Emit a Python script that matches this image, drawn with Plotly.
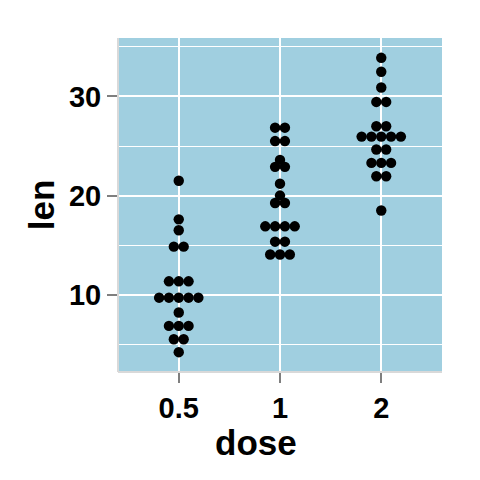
import numpy as np
import plotly.graph_objects as go

# ToothGrowth dot plot, binned values (bin centre, dots in bin)
doses = ["0.5", "1", "2"]
bin_centres = {
    "0.5": [4.2, 5.5, 6.85, 8.2, 9.7, 11.35, 14.85, 16.5, 17.6, 21.5],
    "1": [14.05, 15.35, 16.9, 19.25, 20.0, 21.2, 22.9, 23.6, 25.5, 26.85],
    "2": [18.5, 21.95, 23.3, 24.65, 25.95, 27.0, 29.45, 30.9, 32.5, 33.9],
}
bin_counts = {
    "0.5": [1, 2, 3, 1, 5, 3, 2, 1, 1, 1],
    "1": [3, 2, 4, 2, 1, 1, 2, 1, 2, 2],
    "2": [1, 2, 3, 2, 5, 2, 2, 1, 1, 1],
}
y_ticks = [10, 20, 30]
binwidth = 0.99

# plot geometry (pixels) used to turn dot diameter into x offsets
# (page has an 8px body margin, so left/top margins are 8px smaller)
W, H = 480, 480
m = dict(l=110, r=46, t=30, b=116)
x_range = [0.4, 3.6]
y_range = [2.2, 35.9]
px_per_y = (H - m["t"] - m["b"]) / (y_range[1] - y_range[0])
px_per_x = (W - m["l"] - m["r"]) / (x_range[1] - x_range[0])
dot_px = binwidth * px_per_y
dx = dot_px / px_per_x

xs, ys = [], []
for i, d in enumerate(doses):
    for c, n in zip(bin_centres[d], bin_counts[d]):
        for k in range(n):
            xs.append(i + 1 + (k - (n - 1) / 2) * dx)
            ys.append(c)

fig = go.Figure(go.Scatter(
    x=xs, y=ys, mode="markers",
    marker=dict(size=dot_px + 0.6, color="black", line=dict(width=0)),
    showlegend=False, hoverinfo="skip",
))

font_fam = "Liberation Sans, Arial, sans-serif"
fig.update_layout(
    width=W, height=H, margin=m,
    paper_bgcolor="white", plot_bgcolor="rgb(160,207,224)",
    font=dict(family=font_fam, color="black"),
    xaxis=dict(
        range=x_range, tickvals=[1, 2, 3], ticktext=doses,
        showgrid=True, gridcolor="white", gridwidth=2.2, zeroline=False,
        ticks="outside", ticklen=10, tickwidth=2, tickcolor="#7F7F7F",
        tickfont=dict(size=29, weight="bold", color="black"),
    ),
    yaxis=dict(
        range=y_range, tickvals=y_ticks,
        showgrid=True, gridcolor="white", gridwidth=2.2, zeroline=False,
        ticks="outside", ticklen=10, tickwidth=2, tickcolor="#7F7F7F",
        tickfont=dict(size=29, weight="bold", color="black"),
        minor=dict(tickvals=[5, 15, 25, 35], showgrid=True, gridcolor="white", gridwidth=1.1, ticks=""),
        title=dict(text="len", font=dict(size=35, weight="bold"), standoff=3),
    ),
    # x title sits a little left of the panel centre in the original
    annotations=[dict(
        text="dose", xref="paper", yref="paper", x=0.426, y=0,
        xanchor="center", yanchor="middle", yshift=-70, showarrow=False,
        font=dict(size=35, weight="bold", color="black"),
    )],
    shapes=[
        dict(type="line", xref="paper", yref="paper", x0=0, x1=0, y0=0, y1=1,
             line=dict(color="#D9D9D9", width=2)),
        dict(type="line", xref="paper", yref="paper", x0=0, x1=1, y0=0, y1=0,
             line=dict(color="#D9D9D9", width=2)),
    ],
)

fig.write_html("out.html")
